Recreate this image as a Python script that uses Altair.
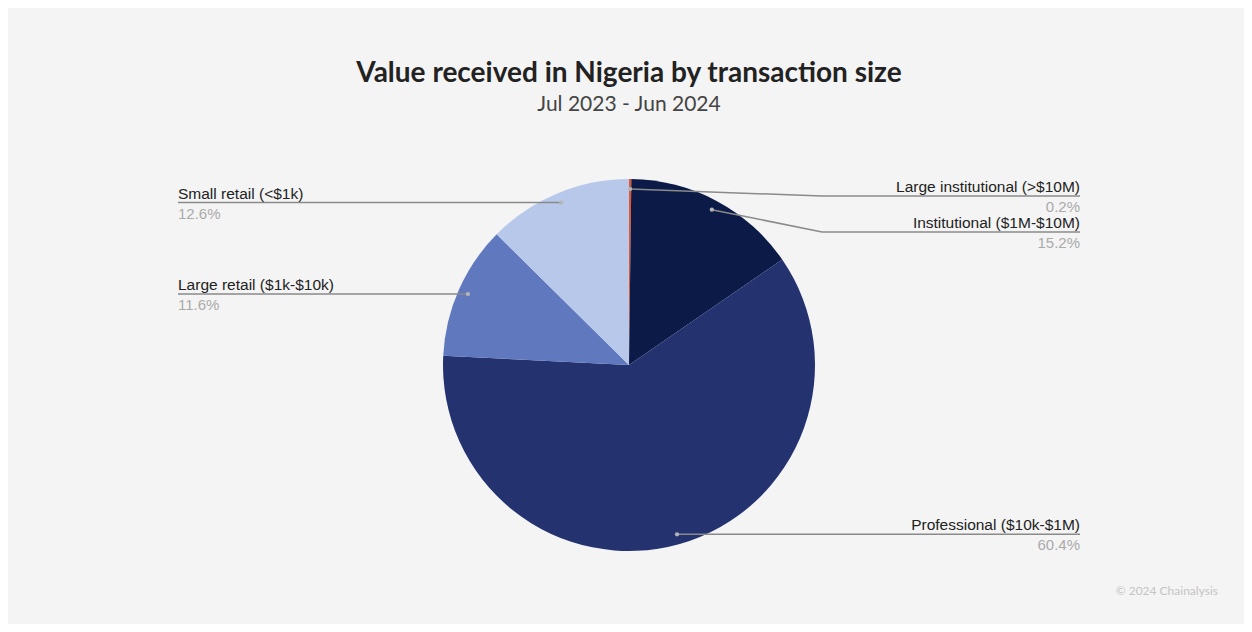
import math
import altair as alt
import pandas as pd

# ---- data ----
categories = [
    "Large institutional (>$10M)",
    "Institutional ($1M-$10M)",
    "Professional ($10k-$1M)",
    "Large retail ($1k-$10k)",
    "Small retail (<$1k)",
]
shares = [0.2, 15.2, 60.4, 11.6, 12.6]
pct_labels = ["0.2%", "15.2%", "60.4%", "11.6%", "12.6%"]
colors = ["#e4572e", "#0c1a48", "#243370", "#6078be", "#b8c8ea"]

# ---- layout (chart-local pixels) ----
W, H = 1236, 616
CX, CY, R = 621, 357, 186
DOT_R = 176
RIGHT_X, LEFT_X, ELBOW_X = 1072, 170, 814
label_line_y = [188, 224, None, None, None]  # None -> leader line stays at dot height

rows, line_rows, text_rows = [], [], []
total = sum(shares)
cum = 0.0
for i, (c, v, p) in enumerate(zip(categories, shares, pct_labels)):
    mid = (cum + v / 2) / total * 2 * math.pi
    cum += v
    dx = CX + DOT_R * math.sin(mid)
    dy = CY - DOT_R * math.cos(mid)
    right = math.sin(mid) >= 0
    ly = label_line_y[i] if label_line_y[i] is not None else dy
    rows.append({"cat": c, "value": v, "idx": i, "dx": dx, "dy": dy})
    pts = [(dx, dy)]
    if right:
        if abs(ly - dy) > 1:
            pts.append((ELBOW_X, ly))
        pts.append((RIGHT_X, ly))
    else:
        pts.append((LEFT_X, ly))
    for k, (px, py) in enumerate(pts):
        line_rows.append({"cat": c, "step": k, "x": px, "y": py})
    text_rows.append({"cat": c, "pct": p, "x": RIGHT_X if right else LEFT_X,
                      "y": ly, "align": "right" if right else "left"})

df = pd.DataFrame(rows)
lines = pd.DataFrame(line_rows)
texts = pd.DataFrame(text_rows)

xs = alt.Scale(domain=[0, W], nice=False, zero=False)
ys = alt.Scale(domain=[0, H], nice=False, zero=False, reverse=True)

pie = alt.Chart(df).mark_arc(radius=R, stroke=None).encode(
    theta=alt.Theta("value:Q", stack=True),
    order=alt.Order("idx:Q"),
    color=alt.Color("cat:N", scale=alt.Scale(domain=categories, range=colors), legend=None),
    x=alt.value(CX), y=alt.value(CY),
)

leaders = alt.Chart(lines).mark_line(color="#8a8a8a", strokeWidth=1.5).encode(
    x=alt.X("x:Q", scale=xs, axis=None),
    y=alt.Y("y:Q", scale=ys, axis=None),
    detail="cat:N",
    order="step:Q",
)

dots = alt.Chart(df).mark_circle(color="#b5b5b5", size=18, opacity=1).encode(
    x=alt.X("dx:Q", scale=xs, axis=None),
    y=alt.Y("dy:Q", scale=ys, axis=None),
)

def label_layer(align):
    sub = texts[texts["align"] == align]
    name = alt.Chart(sub).mark_text(align=align, baseline="alphabetic", dy=-4,
                                    font="Liberation Sans", fontSize=15.5, color="#222222").encode(
        x=alt.X("x:Q", scale=xs, axis=None), y=alt.Y("y:Q", scale=ys, axis=None), text="cat:N")
    pct = alt.Chart(sub).mark_text(align=align, baseline="alphabetic", dy=16,
                                   font="Liberation Sans", fontSize=15, color="#aaaaaa").encode(
        x=alt.X("x:Q", scale=xs, axis=None), y=alt.Y("y:Q", scale=ys, axis=None), text="pct:N")
    return name + pct

title_df = pd.DataFrame({"t": ["Value received in Nigeria by transaction size"]})
sub_df = pd.DataFrame({"t": ["Jul 2023 - Jun 2024"]})
copy_df = pd.DataFrame({"t": ["© 2024 Chainalysis"]})

title = alt.Chart(title_df).mark_text(font="Lato", fontSize=28, fontWeight="bold", color="#222222",
                                      align="center", baseline="alphabetic").encode(
    x=alt.value(621), y=alt.value(74), text="t:N")
subtitle = alt.Chart(sub_df).mark_text(font="Lato", fontSize=21, color="#444444",
                                       align="center", baseline="alphabetic").encode(
    x=alt.value(621), y=alt.value(103), text="t:N")
copyright_ = alt.Chart(copy_df).mark_text(font="Lato", fontSize=12, color="#c4c4c4",
                                          align="right", baseline="middle").encode(
    x=alt.value(1210), y=alt.value(583), text="t:N")

chart = alt.layer(
    pie, leaders, dots, label_layer("right"), label_layer("left"), title, subtitle, copyright_
).properties(
    width=W, height=H, background="#f4f4f4", padding=0,
    autosize=alt.AutoSizeParams(type="none"),
).configure_view(stroke=None)

chart.save("out.html", embed_options={"renderer": "svg", "actions": False})
